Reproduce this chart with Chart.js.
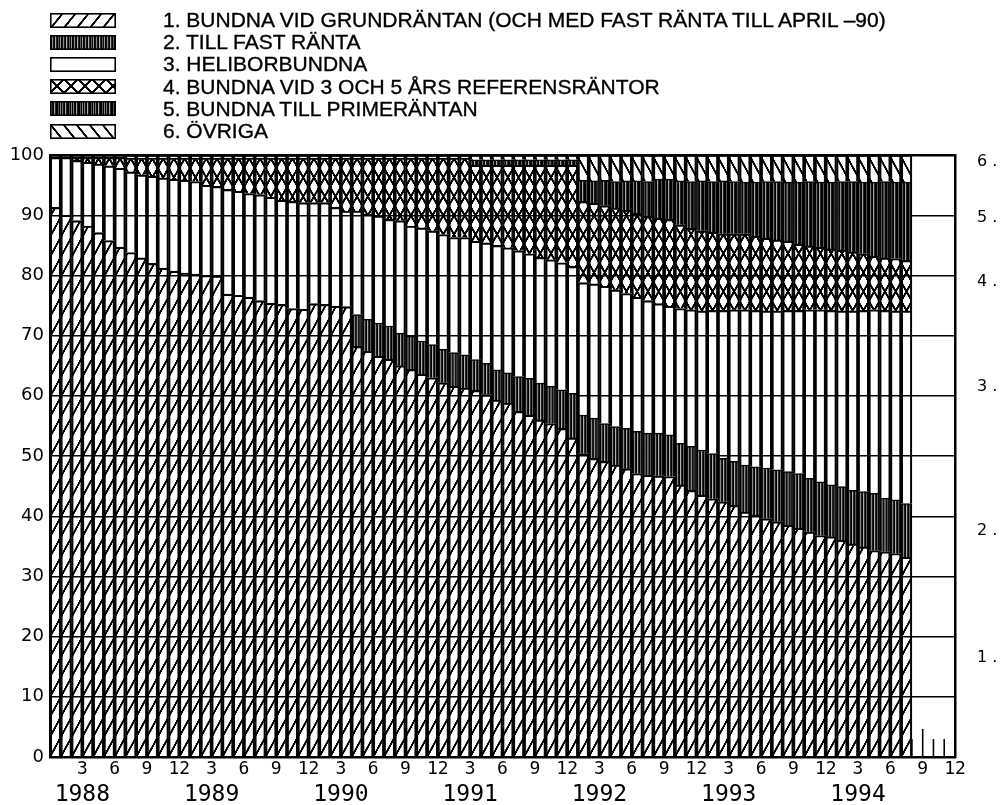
<!DOCTYPE html>
<html><head><meta charset="utf-8">
<script src="https://cdn.jsdelivr.net/npm/chart.js@4.4.1/dist/chart.umd.min.js"></script>
<style>
html,body{margin:0;padding:0;background:#fff;}
#wrap{position:relative;width:1008px;height:805px;overflow:hidden;}
#c{position:absolute;left:0;top:0;}
.sw{position:absolute;left:50px;}
.lt{position:absolute;left:163px;font-family:"Liberation Sans",Arial,sans-serif;font-size:21px;color:#000;line-height:22px;white-space:nowrap;-webkit-text-stroke:0.35px #000;}
</style></head>
<body><div id="wrap"><canvas id="c" width="1008" height="805"></canvas><div id="legend"></div></div>
<script>
// ---------- DATA ----------
const years = ['1988','1989','1990','1991','1992','1993','1994'];
const monthTickLabels = ['3','6','9','12'];
const seriesNames = [
  '1. BUNDNA VID GRUNDRÄNTAN (OCH MED FAST RÄNTA TILL APRIL –90)',
  '2. TILL FAST RÄNTA',
  '3. HELIBORBUNDNA',
  '4. BUNDNA VID 3 OCH 5 ÅRS REFERENSRÄNTOR',
  '5. BUNDNA TILL PRIMERÄNTAN',
  '6. ÖVRIGA'
];
const rightLabels = ['1 .','2 .','3 .','4 .','5 .','6 .'];
const rightLabelPos = [16.5, 37.5, 61.5, 79, 89.5, 98.8];

// monthly shares (%), Jan 1988 – Aug 1994
const grundrantan = [91.3,90.0,89.1,88.2,87.1,85.8,84.7,83.8,82.9,82.0,
 81.2,80.7,80.4,80.2,80.0,79.9,76.9,76.7,76.4,75.8,
 75.4,75.2,74.5,74.4,75.3,75.2,74.9,74.8,68.2,67.4,
 66.6,66.1,65.0,64.4,63.6,63.0,62.2,61.6,61.3,60.9,
 60.2,59.3,58.8,57.4,56.8,56.0,55.4,54.6,53.0,50.4,
 49.6,49.1,48.5,47.9,47.1,46.8,46.7,46.6,45.2,44.3,
 43.5,42.9,42.4,41.8,40.7,40.2,39.6,39.1,38.5,38.0,
 37.4,36.8,36.6,36.0,35.4,34.9,34.3,34.1,33.8,33.2];
const fastRanta = [null,null,null,null,null,null,null,null,null,null,
 null,null,null,null,null,null,null,null,null,null,
 null,null,null,null,null,null,null,null,5.3,5.3,
 5.5,5.5,5.4,5.5,5.5,5.5,5.5,5.6,5.5,5.1,
 5.2,5.0,5.0,5.8,6.1,6.1,6.2,6.4,7.4,6.4,
 6.7,6.3,6.4,6.7,7.0,7.0,7.1,6.9,6.9,7.3,
 7.5,7.5,7.2,7.3,7.8,8.0,8.4,8.6,8.9,9.1,
 8.9,8.9,8.6,8.9,8.9,9.2,9.5,8.9,8.9,8.9];
const helibor = [8.3,9.6,10.0,10.6,11.4,12.4,13.1,13.4,13.8,14.5,
 15.0,15.3,15.4,15.4,15.0,14.9,17.4,17.3,17.2,17.6,
 17.6,17.3,17.8,17.7,16.8,16.9,16.4,15.9,17.2,17.5,
 17.8,17.7,18.7,18.3,18.8,18.9,19.1,19.1,19.5,19.7,
 20.0,20.7,20.8,20.9,20.7,20.9,21.0,21.1,21.1,22.0,
 22.3,22.8,22.7,22.4,22.3,22.0,21.5,21.4,22.4,22.7,
 23.1,23.8,24.6,25.2,25.8,26.0,26.1,26.4,26.8,27.1,
 28.0,28.6,29.0,29.2,29.8,30.1,30.5,31.2,31.4,32.0];
const referens = [null,null,0.5,0.8,1.1,1.4,1.8,2.3,2.8,3.0,
 3.3,3.5,3.7,3.9,4.5,4.7,5.2,5.5,5.9,6.1,
 6.5,7.0,7.2,7.4,7.4,7.4,8.2,8.8,8.8,9.3,
 9.6,10.2,10.4,11.3,11.6,12.1,12.7,13.2,13.2,12.6,
 12.9,13.3,13.7,14.2,14.7,15.3,15.7,16.2,16.8,13.5,
 13.4,13.4,13.6,13.8,13.9,14.0,14.2,14.4,13.9,13.5,
 13.3,13.0,12.7,12.6,12.6,12.3,12.1,11.8,11.5,11.0,
 10.6,10.4,10.2,10.1,9.8,9.4,8.9,8.7,8.7,8.4];
const prime = [null,null,null,null,null,null,null,null,null,null,
 null,null,null,null,null,null,null,null,null,null,
 null,null,null,null,null,null,null,null,null,null,
 null,null,null,null,null,null,null,null,null,0.9,
 0.9,0.9,0.9,0.9,0.9,0.9,0.9,0.9,0.9,3.5,
 3.7,4.2,4.4,4.9,5.4,5.8,6.5,6.7,7.3,7.8,
 8.3,8.4,8.8,8.7,8.6,9.0,9.4,9.7,9.8,10.3,
 10.7,10.8,11.1,11.4,11.7,11.9,12.3,12.7,12.7,13.0];
const ovriga = [0.4,0.4,0.4,0.4,0.4,0.4,0.4,0.5,0.5,0.5,
 0.5,0.5,0.5,0.5,0.5,0.5,0.5,0.5,0.5,0.5,
 0.5,0.5,0.5,0.5,0.5,0.5,0.5,0.5,0.5,0.5,
 0.5,0.5,0.5,0.5,0.5,0.5,0.5,0.5,0.5,0.8,
 0.8,0.8,0.8,0.8,0.8,0.8,0.8,0.8,0.8,4.2,
 4.3,4.2,4.4,4.3,4.3,4.4,4.0,4.0,4.3,4.4,
 4.3,4.4,4.3,4.4,4.5,4.5,4.4,4.4,4.5,4.5,
 4.4,4.5,4.5,4.4,4.4,4.5,4.5,4.4,4.5,4.5];
const seriesValues = [grundrantan, fastRanta, helibor, referens, prime, ovriga];

// ---------- PATTERNS ----------
const R = 4;
function tileCanvas(tw, th, paint){
  const c = document.createElement('canvas');
  c.width = Math.round(tw*R); c.height = Math.round(th*R);
  const g = c.getContext('2d'); g.scale(R,R); paint(g,tw,th); return c;
}
function lines(g,tw,th,segs,lw){
  g.strokeStyle='#000'; g.lineWidth=lw; g.lineCap='butt';
  for (const s of segs) for (let i=-1;i<=1;i++) for (let j=-1;j<=1;j++){
    g.beginPath(); g.moveTo(s[0]*tw+i*tw, s[1]*th+j*th); g.lineTo(s[2]*tw+i*tw, s[3]*th+j*th); g.stroke();
  }
}
const stripeCols = ['#000','#111','#8a8a8a','#1a1a1a','#000','#b0b0b0','#2a2a2a','#000','#606060','#0a0a0a','#9a9a9a'];
const stripeCols2 = ['#000','#777','#111','#000','#aaa','#222','#000','#000','#555','#000','#888'];
function stripes(cols){ return (g,tw,th)=>{ cols.forEach((c,i)=>{g.fillStyle=c; g.fillRect(i,0,1,th);}); }; }
const painters = [
  (g,tw,th)=>lines(g,tw,th,[[0,1,1,0]],2.0),
  stripes(stripeCols),
  null,
  (g,tw,th)=>lines(g,tw,th,[[0,0,1,1],[1,0,0,1]],2.1),
  stripes(stripeCols2),
  (g,tw,th)=>lines(g,tw,th,[[0,0,1,1]],2.0)
];
const barTiles = [[11,20],[11,1],null,[11,19],[11,1],[11,20]];
const legTiles = [[13,16],[11,1],null,[14,14],[11,1],[13,16]];

const cv = document.getElementById('c');
const ctx = cv.getContext('2d');
const barPatterns = painters.map((p,k)=>{
  if (!p) return 'rgba(0,0,0,0)';
  const t = tileCanvas(barTiles[k][0], barTiles[k][1], p);
  return ctx.createPattern(t,'repeat');
});

const alignPlugin = {
  id:'alignPatterns',
  beforeDatasetsDraw(chart){
    const xs = chart.scales.x, ys = chart.scales.y;
    const x0 = xs.getPixelForValue(0), w = xs.getPixelForValue(1) - x0, y0 = ys.getPixelForValue(0);
    barPatterns.forEach((p,k)=>{
      if (typeof p === 'string') return;
      p.setTransform(new DOMMatrix([w/barTiles[k][0]/R,0,0,1/R,x0,y0]));
    });
  }
};
const innerTicks = {
  id:'innerTicks',
  afterDatasetsDraw(chart){
    const xs = chart.scales.x, ys = chart.scales.y, c = chart.ctx;
    const yb = ys.getPixelForValue(0);
    c.save(); c.strokeStyle='#000'; c.lineWidth=1.6;
    for (let v=1; v<xs.max; v++){
      const px = xs.getPixelForValue(v);
      c.beginPath(); c.moveTo(px,yb); c.lineTo(px, yb-(v%3===0?28:18)); c.stroke();
    }
    c.restore();
  }
};

const mono = 'DejaVu Sans Mono';
const chart = new Chart(ctx, {
  type:'bar',
  data:{ datasets: seriesNames.map((name,k)=>({
    label:name,
    data: seriesValues[k].map((v,i)=>({x:i+0.5, y:v})),
    backgroundColor: barPatterns[k],
    borderColor:'#000', borderWidth:1.5,
    barPercentage:1, categoryPercentage:1,
    xAxisID:'x', yAxisID:'y'
  }))},
  options:{
    responsive:false, animation:false, events:[],
    layout:{padding:{top:155,left:0,right:0,bottom:0}},
    plugins:{legend:{display:false}, tooltip:{enabled:false}},
    scales:{
      x:{type:'linear', min:0, max:84, stacked:true, position:'bottom', weight:0, offset:false,
        ticks:{stepSize:3, autoSkip:false, maxRotation:0, color:'#000', padding:2,
          font:{family:mono, size:18},
          callback:(v)=> (v>0 && v%3===0) ? monthTickLabels[(v/3-1)%4] : ''},
        grid:{drawOnChartArea:false, drawTicks:false, offset:false},
        border:{display:true, color:'#000', width:2.5},
        afterFit:(s)=>{s.height=22;}},
      xYear:{type:'linear', min:0, max:84, position:'bottom', weight:1, offset:false,
        afterBuildTicks:(s)=>{ s.ticks = years.map((y,i)=>({value:3+12*i})); },
        ticks:{autoSkip:false, maxRotation:0, color:'#000', padding:2, font:{family:mono, size:23},
          callback:(v,i)=>years[i]},
        grid:{display:false, drawTicks:false, offset:false}, border:{display:false},
        afterFit:(s)=>{s.height=26;}},
      y:{min:0, max:100, stacked:true,
        ticks:{stepSize:10, color:'#000', padding:6, font:{family:'DejaVu Sans', size:18}},
        grid:{color:'#000', lineWidth:(c)=> (c.tick && c.tick.value===100) ? 2.5 : 1.4, drawTicks:false},
        border:{color:'#000', width:3},
        afterFit:(s)=>{s.width=50;}},
      yR:{position:'right', min:0, max:100,
        afterBuildTicks:(s)=>{ s.ticks = rightLabelPos.map(v=>({value:v})); },
        ticks:{autoSkip:false, color:'#000', padding:22, font:{family:'DejaVu Sans', size:16},
          callback:(v,i)=>rightLabels[i]},
        grid:{drawOnChartArea:false, drawTicks:false},
        border:{color:'#000', width:2.5},
        afterFit:(s)=>{s.width=53;}}
    }
  },
  plugins:[alignPlugin, innerTicks]
});

// ---------- LEGEND (HTML) ----------
const leg = document.getElementById('legend');
seriesNames.forEach((name,k)=>{
  const cy = 20 + k*22.2;
  const sw = document.createElement('canvas');
  sw.width = 66; sw.height = 15; sw.className='sw';
  sw.style.top = (cy-7.5)+'px';
  const g = sw.getContext('2d');
  g.fillStyle='#fff'; g.fillRect(0,0,66,15);
  if (painters[k]){
    const t = tileCanvas(legTiles[k][0], legTiles[k][1], painters[k]);
    const p = g.createPattern(t,'repeat');
    p.setTransform(new DOMMatrix([1/R,0,0,1/R,0,0]));
    g.fillStyle = p; g.fillRect(0,0,66,15);
  }
  g.strokeStyle='#000'; g.lineWidth=1.6; g.strokeRect(0.8,0.8,64.4,13.4);
  leg.appendChild(sw);
  const t = document.createElement('div');
  t.className='lt'; t.textContent=name; t.style.top=(cy-11)+'px';
  leg.appendChild(t);
});
</script>
</body></html>
